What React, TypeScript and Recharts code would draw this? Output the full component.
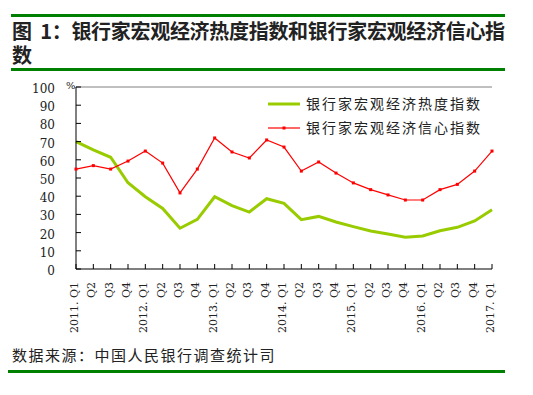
import React from "react";
import { LineChart, Line, XAxis, YAxis, ReferenceLine } from "recharts";

const quarters = [
  "2011. Q1", "Q2", "Q3", "Q4",
  "2012. Q1", "Q2", "Q3", "Q4",
  "2013. Q1", "Q2", "Q3", "Q4",
  "2014. Q1", "Q2", "Q3", "Q4",
  "2015. Q1", "Q2", "Q3", "Q4",
  "2016. Q1", "Q2", "Q3", "Q4",
  "2017. Q1",
];

const heatIndex = [
  70.0, 65.4, 61.4, 47.4, 39.7, 33.3, 22.4, 27.3, 39.7, 34.8, 31.3, 38.6, 36.1,
  27.1, 28.9, 25.8, 23.3, 20.9, 19.2, 17.4, 18.1, 21.0, 22.9, 26.4, 32.6,
];

const confidenceIndex = [
  54.9, 56.8, 54.9, 59.3, 64.8, 58.2, 41.8, 54.9, 72.0, 64.3, 61.0, 70.9, 67.0,
  53.8, 58.8, 52.7, 47.3, 43.6, 40.7, 37.9, 37.9, 43.6, 46.5, 53.8, 64.8,
];

const yTicks = [0, 10, 20, 30, 40, 50, 60, 70, 80, 90, 100];

const heatName = "银行家宏观经济热度指数";
const confName = "银行家宏观经济信心指数";

const GREEN = "#99cc00";
const RED = "#ff0000";
const TEXT = "#222";

const data = quarters.map((q, i) => ({
  quarter: q,
  heat: heatIndex[i],
  conf: confidenceIndex[i],
}));

const XTick = (props: any) => {
  const { x, y, payload } = props;
  return (
    <g>
      <line x1={x} y1={y} x2={x} y2={y - 5} stroke="#000" />
      <text
        transform={`translate(${x + 2},${y + 13}) rotate(-90)`}
        textAnchor="end"
        fontSize={11}
        fontFamily="DejaVu Serif"
        fill={TEXT}
      >
        {payload.value}
      </text>
    </g>
  );
};

const YTick = (props: any) => {
  const { x, y, payload } = props;
  return (
    <g>
      <line x1={x} y1={y} x2={x + 5} y2={y} stroke="#000" />
      <text x={x - 21} y={y + 6} textAnchor="end" fontSize={12} fontFamily="DejaVu Serif" fill={TEXT}>
        {payload.value}
      </text>
    </g>
  );
};

const RedDot = (props: any) => {
  const { cx, cy, index } = props;
  if (cx == null || cy == null) return null;
  return <rect key={index} x={cx - 1.5} y={cy - 1.5} width={3} height={3} fill={RED} />;
};

export default function App() {
  return (
    <div
      style={{
        position: "relative",
        width: 533,
        height: 395,
        background: "#fff",
        fontFamily: "'Noto Sans CJK SC', sans-serif",
        color: TEXT,
      }}
    >
      <style>{`body{margin:0}`}</style>
      <div style={{ position: "absolute", left: 11, top: 14, width: 494, height: 3, background: "#008000" }} />
      <div
        style={{
          position: "absolute",
          left: 12,
          top: 19,
          fontSize: 20,
          fontWeight: 700,
          lineHeight: "24px",
          letterSpacing: -0.3,
          whiteSpace: "pre",
        }}
      >
        {"图  1：银行家宏观经济热度指数和银行家宏观经济信心指\n数"}
      </div>
      <div style={{ position: "absolute", left: 11, top: 68, width: 494, height: 2.5, background: "#008000" }} />

      <div style={{ position: "absolute", left: 66, top: 80, fontSize: 10, fontFamily: "DejaVu Serif" }}>%</div>

      <div style={{ position: "absolute", left: 0, top: 0 }}>
        <LineChart width={533} height={395} data={data} margin={{ top: 87, right: 41, left: 36, bottom: 66 }}>
          <XAxis
            dataKey="quarter"
            interval={0}
            height={60}
            tickSize={0}
            tickMargin={0}
            tickLine={false}
            axisLine={{ stroke: "#000" }}
            tick={<XTick />}
          />
          <YAxis
            type="number"
            domain={[0, 100]}
            ticks={yTicks}
            interval={0}
            width={40}
            tickSize={0}
            tickMargin={0}
            tickLine={false}
            axisLine={{ stroke: "#000" }}
            tick={<YTick />}
          />
          <ReferenceLine y={100} stroke="#808080" />
          <ReferenceLine x="2017. Q1" stroke="#808080" />
          <Line
            dataKey="heat"
            name={heatName}
            stroke={GREEN}
            strokeWidth={3}
            dot={false}
            isAnimationActive={false}
          />
          <Line
            dataKey="conf"
            name={confName}
            stroke={RED}
            strokeWidth={1.2}
            dot={<RedDot />}
            isAnimationActive={false}
          />
        </LineChart>
      </div>

      <svg width={240} height={50} style={{ position: "absolute", left: 266, top: 92 }}>
        <line x1={2} y1={12} x2={34} y2={12} stroke={GREEN} strokeWidth={3} />
        <text x={40} y={17} fontSize={14} letterSpacing={2} fontFamily="Noto Sans CJK SC" fill={TEXT}>
          {heatName}
        </text>
        <line x1={2} y1={36} x2={34} y2={36} stroke={RED} strokeWidth={1.2} />
        <rect x={16.5} y={34.5} width={3} height={3} fill={RED} />
        <text x={40} y={41} fontSize={14} letterSpacing={2} fontFamily="Noto Sans CJK SC" fill={TEXT}>
          {confName}
        </text>
      </svg>

      <div style={{ position: "absolute", left: 12, top: 345, fontSize: 15, letterSpacing: 1.5, lineHeight: "20px" }}>
        数据来源：中国人民银行调查统计司
      </div>
      <div style={{ position: "absolute", left: 8, top: 370, width: 497, height: 2.5, background: "#008000" }} />
    </div>
  );
}
